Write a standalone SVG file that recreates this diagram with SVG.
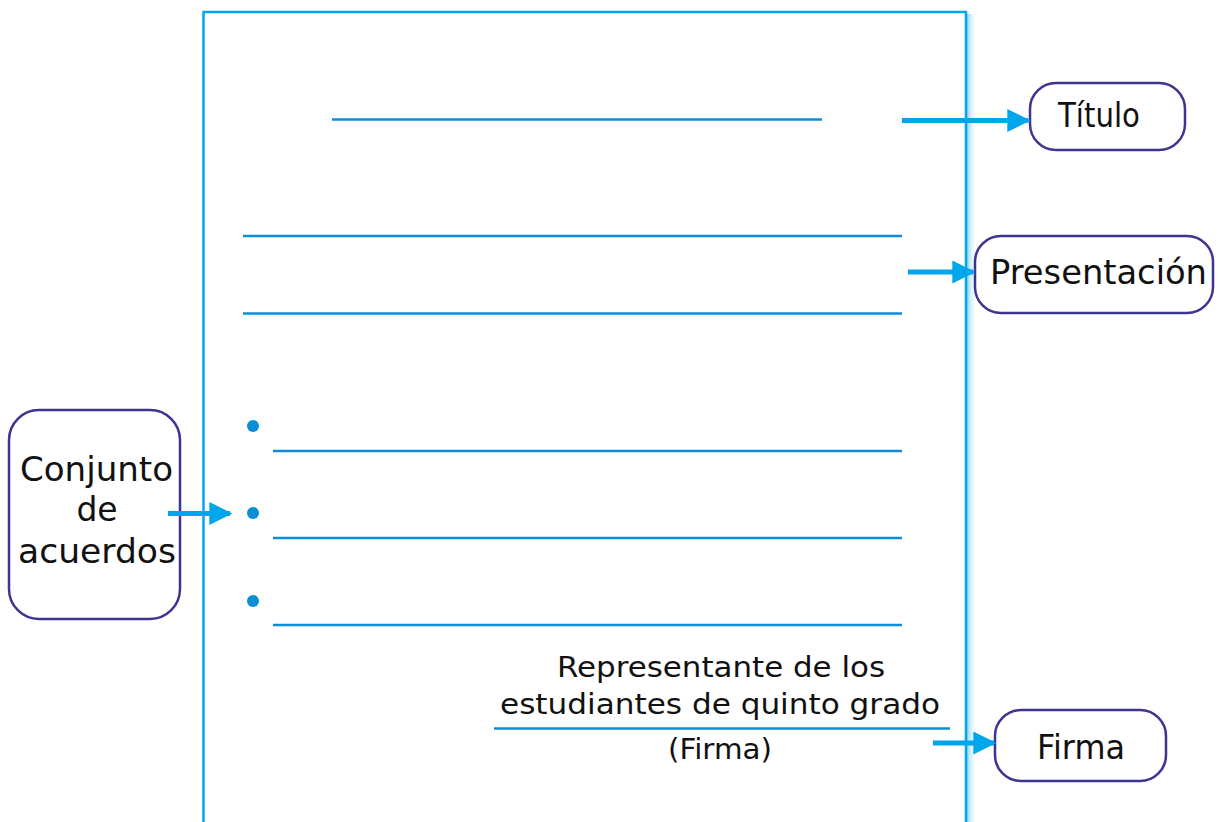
<svg xmlns="http://www.w3.org/2000/svg" width="1224" height="822" viewBox="0 0 1224 822">
<style>
.page{fill:#fff;stroke:#00a6eb;stroke-width:2.5}
.rule{stroke:#0b8ed6;stroke-width:2.5}
.dot{fill:#0b8ed6}
.arr{stroke:#00a6eb;stroke-width:5;fill:none}
.box{fill:#fff;stroke:#3d3590;stroke-width:2.5}
text{font-family:"DejaVu Sans","Liberation Sans",sans-serif;fill:#111}
.lbl{font-size:33px}
.sig{font-size:29px;text-anchor:middle}
</style>
<defs>
<linearGradient id="sh" x1="0" x2="1" y1="0" y2="0">
<stop offset="0" stop-color="#7fd0f5" stop-opacity="0.9"/>
<stop offset="1" stop-color="#ffffff" stop-opacity="0"/>
</linearGradient>
<marker id="ah" viewBox="0 0 10 10" refX="9" refY="5" markerWidth="4.6" markerHeight="4.6" orient="auto" markerUnits="strokeWidth">
<path d="M0,0 L10,5 L0,10 z" fill="#00a6eb"/>
</marker>
</defs>
<rect x="0" y="0" width="1224" height="822" fill="#fff"/>
<g id="page">
<rect x="967" y="14" width="10" height="820" fill="url(#sh)"/>
<rect class="page" x="203.5" y="12" width="762.5" height="830"/>
<line class="rule" x1="332" y1="119.5" x2="822" y2="119.5"/>
<line class="rule" x1="243" y1="236" x2="902" y2="236"/>
<line class="rule" x1="243" y1="313.5" x2="902" y2="313.5"/>
<circle class="dot" cx="253" cy="426" r="6"/>
<line class="rule" x1="273" y1="451" x2="902" y2="451"/>
<circle class="dot" cx="253" cy="513" r="6"/>
<line class="rule" x1="273" y1="538" x2="902" y2="538"/>
<circle class="dot" cx="253" cy="601" r="6"/>
<line class="rule" x1="273" y1="625" x2="902" y2="625"/>
<line class="rule" x1="494" y1="728.5" x2="950" y2="728.5"/>
<text class="sig" x="721" y="677" textLength="328" lengthAdjust="spacingAndGlyphs">Representante de los</text>
<text class="sig" x="720" y="714" textLength="440" lengthAdjust="spacingAndGlyphs">estudiantes de quinto grado</text>
<text class="sig" x="720" y="759" textLength="104" lengthAdjust="spacingAndGlyphs">(Firma)</text>
</g>
<g id="titulo">
<rect class="box" x="1030" y="83" width="155" height="67" rx="26"/>
<text class="lbl" x="1058" y="127" textLength="82" lengthAdjust="spacingAndGlyphs">Título</text>
</g>
<g id="presentacion">
<rect class="box" x="975" y="236" width="238" height="77" rx="26"/>
<text class="lbl" x="990" y="284" textLength="217" lengthAdjust="spacingAndGlyphs">Presentación</text>
</g>
<g id="conjunto">
<rect class="box" x="9" y="410" width="171" height="209" rx="30"/>
<text class="lbl" x="20" y="481" textLength="153" lengthAdjust="spacingAndGlyphs">Conjunto</text>
<text class="lbl" x="97" y="521" text-anchor="middle">de</text>
<text class="lbl" x="18" y="563" textLength="158" lengthAdjust="spacingAndGlyphs">acuerdos</text>
</g>
<g id="firma">
<rect class="box" x="995" y="710" width="171" height="71" rx="26"/>
<text class="lbl" x="1037" y="759" textLength="88" lengthAdjust="spacingAndGlyphs">Firma</text>
</g>
<g id="connectors">
<line class="arr" x1="902" y1="120.5" x2="1028" y2="120.5" marker-end="url(#ah)"/>
<line class="arr" x1="908" y1="272" x2="973" y2="272" marker-end="url(#ah)"/>
<line class="arr" x1="168" y1="513.5" x2="230" y2="513.5" marker-end="url(#ah)"/>
<line class="arr" x1="933" y1="743" x2="994" y2="743" marker-end="url(#ah)"/>
</g>
</svg>
